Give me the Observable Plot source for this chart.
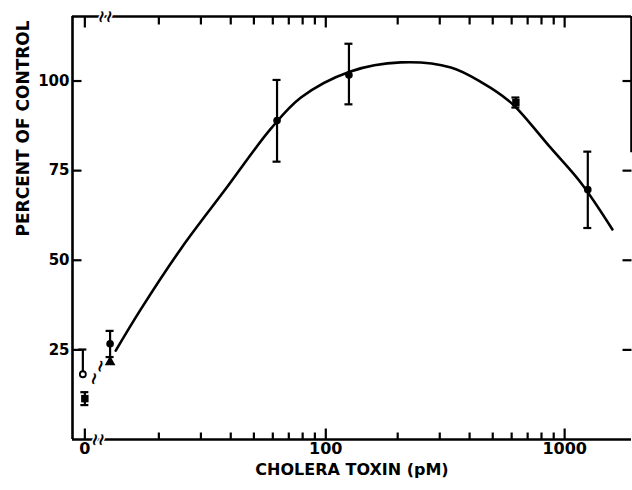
<!DOCTYPE html>
<html>
<head>
<meta charset="utf-8">
<script src="https://cdn.jsdelivr.net/npm/d3@7"></script>
<script src="https://cdn.jsdelivr.net/npm/@observablehq/plot@0.6"></script>
<style>
  body { margin: 0; background: #fff; }
  svg { display: block; }
</style>
</head>
<body>
<div id="chart"></div>
<script>
// Response to cholera toxin, expressed as percent of control.
// Dose 0 is drawn just left of the axis break.
const ZERO_AT = 9.8;

// Filled circles: mean with error bar
const circleDose = [12.5, 62.5, 125, 1250];
const circleMean = [26.7, 89, 101.7, 69.7];
const circleLow  = [23, 77.5, 93.5, 59];
const circleHigh = [30.3, 100.3, 110.4, 80.3];

// Filled squares
const squareDose = [0, 625];
const squareMean = [11.4, 94];
const squareLow  = [9.6, 92.6];
const squareHigh = [13.2, 95.4];

// Open circle (upper bar only)
const openDose = [0];
const openMean = [18.2];
const openHigh = [25.1];

// Triangle
const triDose = [12.5];
const triMean = [21.6];

// Fitted curve
const curveDose  = [13.2, 16.8, 24.8, 38.2, 58.9, 78.7, 126, 206, 334, 458, 581, 655, 873, 1167, 1585];
const curveValue = [24.8, 36.3, 53.3, 70.0, 86.7, 95.4, 102.6, 105.2, 103.8, 99.3, 94.6, 91.2, 81.4, 71.7, 58.6];

// Axes
const xMinorTicks = [20, 30, 40, 50, 60, 70, 80, 90, 200, 300, 400, 500, 600, 700, 800, 900];
const xMajorTicks = [0, 100, 1000];
const xTickLabels = ["0", "100", "1000"];
const yTicks = [25, 50, 75, 100];
const yTickLabels = ["25", "50", "75", "100"];
const xTitle = "CHOLERA TOXIN (pM)";
const yTitle = "PERCENT OF CONTROL";

// Break marks: on the axes and between the zero group and the curve
const axisBreakDose = [10.8, 11.5, 11.5, 12.4];
const axisBreakAt   = ["bottom", "bottom", "top", "top"];
const gapBreakDose  = [10.7, 11.4];
const gapBreakValue = [17, 20.5];

// Geometry
const W = 632, H = 490;
const mL = 72, mR = 1, mT = 16, mB = 51;
const XMIN = 8.7, XMAX = 1905, YMAX = 118;
const DECADE = (W - mL - mR) / Math.log10(XMAX / XMIN);   // px per decade
const xShift = (px) => Math.pow(10, px / DECADE);          // multiplicative x offset for px
const pos = (d) => d === 0 ? ZERO_AT : d;

const circles = circleDose.map((d, i) => ({x: pos(d), y: circleMean[i], lo: circleLow[i], hi: circleHigh[i]}));
const squares = squareDose.map((d, i) => ({x: pos(d), y: squareMean[i], lo: squareLow[i], hi: squareHigh[i]}));
const opens = openDose.map((d, i) => ({x: pos(d), y: openMean[i], lo: openMean[i], hi: openHigh[i]}));
const tris = triDose.map((d, i) => ({x: pos(d), y: triMean[i]}));
const curve = curveDose.map((d, i) => ({x: d, y: curveValue[i]}));
const bars = [...circles, ...squares];
const xLabels = xMajorTicks.map((d, i) => ({x: pos(d), t: xTickLabels[i]}));
const yLabels = yTicks.map((d, i) => ({y: d, t: yTickLabels[i]}));
const axisBreaks = axisBreakDose.map((d, i) => ({x: d, y: axisBreakAt[i] === "bottom" ? 0 : YMAX}));
const gapBreaks = gapBreakDose.map((d, i) => ({x: d, y: gapBreakValue[i]}));

// Tick positions on each side of the frame
const bottomTicks = [
  ...xMinorTicks.map(v => ({x: v, y: 0, len: 7})),
  ...xMajorTicks.map(pos).map(v => ({x: v, y: 0, len: 11}))
];
const topTicks = [
  ...xMinorTicks.map(v => ({x: v, y: YMAX, len: 8})),
  ...xMajorTicks.map(pos).map(v => ({x: v, y: YMAX, len: 11}))
];
const leftTicks = yTicks.map(v => ({x: XMIN, y: v}));
const rightTicks = yTicks.map(v => ({x: XMAX, y: v}));

// Tick glyphs: short strokes pointing into the plot from the anchor point
const stroke = (dx, dy) => ({draw(ctx) { ctx.moveTo(0, 0); ctx.lineTo(dx, dy); }});
const upMinor = stroke(0, -7), upMajor = stroke(0, -11);
const downMinor = stroke(0, 8), downMajor = stroke(0, 11);
const toRight = stroke(9, 0), toLeft = stroke(-9, 0);

const LW = 2.6;
const capMarks = (data, dx = 0) => [
  Plot.ruleX(data, {x: "x", y1: "lo", y2: "hi", strokeWidth: 2.2, dx}),
  Plot.ruleY(data, {y: "hi", x1: d => d.x / xShift(4), x2: d => d.x * xShift(4), strokeWidth: 2.2, dx}),
  Plot.ruleY(data.filter(d => d.lo < d.y), {y: "lo", x1: d => d.x / xShift(4), x2: d => d.x * xShift(4), strokeWidth: 2.2, dx})
];
const tickDots = (data, symbol) =>
  Plot.dot(data, {x: "x", y: "y", symbol, fill: "none", stroke: "black", strokeWidth: 2.2});

const chart = Plot.plot({
  width: W, height: H,
  marginLeft: mL, marginRight: mR, marginTop: mT, marginBottom: mB,
  x: {type: "log", domain: [XMIN, XMAX], axis: null},
  y: {domain: [0, YMAX], axis: null},
  style: {fontFamily: "DejaVu Sans", fontWeight: "bold", color: "black", background: "white"},
  marks: [
    // frame
    Plot.ruleY([0], {x1: XMIN, x2: XMAX, strokeWidth: LW}),
    Plot.ruleY([YMAX], {x1: XMIN, x2: XMAX, strokeWidth: LW}),
    Plot.ruleX([XMIN], {y1: 0, y2: YMAX, strokeWidth: LW}),
    Plot.ruleX([XMAX], {y1: 80, y2: YMAX, strokeWidth: LW}),
    // ticks, pointing inward
    tickDots(bottomTicks.filter(d => d.len === 7), upMinor),
    tickDots(bottomTicks.filter(d => d.len === 11), upMajor),
    tickDots(topTicks.filter(d => d.len === 8), downMinor),
    tickDots(topTicks.filter(d => d.len === 11), downMajor),
    tickDots(leftTicks, toRight),
    tickDots(rightTicks, toLeft),
    // axis breaks
    Plot.text(axisBreaks, {x: "x", y: "y", text: () => "\u2240", fontSize: 17, rotate: 12,
      stroke: "white", strokeWidth: 3, fill: "black", paintOrder: "stroke"}),
    // fitted curve
    Plot.line(curve, {x: "x", y: "y", curve: "catmull-rom", strokeWidth: LW}),
    // squiggles between zero group and the 12.5 pM group
    Plot.text(gapBreaks, {x: "x", y: "y", text: () => "\u2240", fontSize: 17, rotate: 12}),
    // error bars
    ...capMarks(bars),
    ...capMarks(opens, -2),
    // symbols
    Plot.dot(circles, {x: "x", y: "y", r: 3.8, fill: "black"}),
    Plot.dot(squares, {x: "x", y: "y", symbol: "square", r: 4.2, fill: "black"}),
    Plot.dot(opens, {x: "x", y: "y", r: 3, fill: "white", stroke: "black", strokeWidth: 1.8, dx: -2}),
    Plot.dot(tris, {x: "x", y: "y", symbol: "triangle", r: 4, fill: "black"}),
    // tick labels
    Plot.text(xLabels, {x: "x", text: "t", frameAnchor: "bottom", dy: 14, fontSize: 16}),
    Plot.text(yLabels, {y: "y", text: "t", frameAnchor: "left", dx: -3, textAnchor: "end", fontSize: 15}),
    // axis titles
    Plot.text([xTitle], {frameAnchor: "bottom", dy: 35, fontSize: 16}),
    Plot.text([yTitle], {frameAnchor: "left", rotate: -90, dx: -49, dy: 8.5, fontSize: 17})
  ]
});

document.getElementById("chart").append(chart);
</script>
</body>
</html>
